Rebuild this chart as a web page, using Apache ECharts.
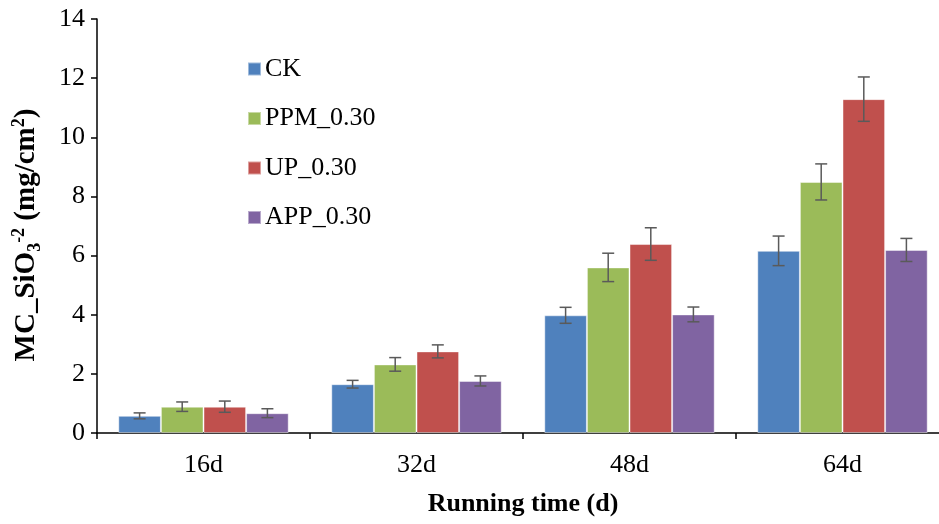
<!DOCTYPE html>
<html>
<head>
<meta charset="utf-8">
<script src="https://cdn.jsdelivr.net/npm/echarts@6/dist/echarts.min.js"></script>
<style>html,body{margin:0;padding:0;background:#fff}#c{width:939px;height:524px}</style>
</head>
<body>
<div id="c"></div>
<script>
const categories = ['16d', '32d', '48d', '64d'];
const seriesNames = ['CK', 'PPM_0.30', 'UP_0.30', 'APP_0.30'];
const ck = [0.58, 1.65, 3.98, 6.16];
const ckErr = [0.10, 0.13, 0.27, 0.50];
const ppm = [0.89, 2.32, 5.60, 8.49];
const ppmErr = [0.16, 0.23, 0.48, 0.61];
const up = [0.89, 2.76, 6.39, 11.29];
const upErr = [0.19, 0.22, 0.55, 0.75];
const app = [0.67, 1.76, 4.01, 6.19];
const appErr = [0.15, 0.17, 0.25, 0.39];
const yTicks = { min: 0, max: 14, interval: 2 };

const values = [ck, ppm, up, app];
const errors = [ckErr, ppmErr, upErr, appErr];
const colors = ['#4F81BD', '#9BBB59', '#C0504D', '#8064A2'];
const FONT = '"Liberation Serif", "Times New Roman", serif';
const CAT_GAP = 0.2;

const chart = echarts.init(document.getElementById('c'), null, { renderer: 'canvas' });

const barSeries = seriesNames.map((n, i) => ({
  type: 'bar',
  name: n,
  data: values[i],
  barGap: '0%',
  barCategoryGap: (CAT_GAP * 100) + '%',
  itemStyle: { color: colors[i], borderColor: 'rgba(255,255,255,0.45)', borderWidth: 1 },
  z: 2
}));

const errSeries = seriesNames.map((n, i) => ({
  type: 'custom',
  name: n + ' err',
  z: 5,
  silent: true,
  encode: { x: 0, y: 1 },
  data: values[i].map((v, k) => [k, v, errors[i][k]]),
  renderItem: function (params, api) {
    const c = api.value(0), v = api.value(1), e = api.value(2);
    const band = api.size([1, 0])[0];
    const bw = band * (1 - CAT_GAP) / seriesNames.length;
    const p = api.coord([c, v]);
    const x = p[0] + (i - (seriesNames.length - 1) / 2) * bw;
    const top = api.coord([c, v + e])[1];
    const bot = api.coord([c, v - e])[1];
    const cap = 6;
    const st = { stroke: '#5a5a5a', lineWidth: 1.5 };
    return {
      type: 'group',
      children: [
        { type: 'line', shape: { x1: x, y1: top, x2: x, y2: bot }, style: st },
        { type: 'line', shape: { x1: x - cap, y1: top, x2: x + cap, y2: top }, style: st },
        { type: 'line', shape: { x1: x - cap, y1: bot, x2: x + cap, y2: bot }, style: st }
      ]
    };
  }
}));

chart.setOption({
  animation: false,
  backgroundColor: '#fff',
  grid: { left: 97, top: 19, width: 852, height: 414, containLabel: false, outerBoundsMode: 'none' },
  legend: {
    data: seriesNames,
    orient: 'vertical',
    left: 247,
    top: 56,
    padding: 0,
    itemWidth: 13,
    itemHeight: 13,
    itemGap: 23.5,
    icon: 'rect',
    textStyle: { fontFamily: FONT, fontSize: 26, color: '#000', padding: [0, 0, 0, -1] }
  },
  graphic: [{
    type: 'text',
    x: 27,
    y: 235,
    rotation: Math.PI / 2,
    style: {
      text: '{b|MC_SiO}{sub|3}{sup|-2}{b| (mg/cm}{sup|2}{b|)}',
      align: 'center',
      verticalAlign: 'middle',
      rich: {
        b: { fontFamily: FONT, fontSize: 29, fontWeight: 'bold', fill: '#000', lineHeight: 34 },
        sub: { fontFamily: FONT, fontSize: 18, fontWeight: 'bold', fill: '#000', verticalAlign: 'bottom' },
        sup: { fontFamily: FONT, fontSize: 18, fontWeight: 'bold', fill: '#000', verticalAlign: 'top' }
      }
    }
  }],
  xAxis: {
    type: 'category',
    data: categories,
    name: 'Running time (d)',
    nameLocation: 'middle',
    nameGap: 58,
    nameTextStyle: { fontFamily: FONT, fontSize: 26, fontWeight: 'bold', color: '#000' },
    axisLine: { lineStyle: { color: '#000', width: 1.5 } },
    axisTick: { show: true, length: 6, lineStyle: { color: '#000', width: 1.5 } },
    axisLabel: { fontFamily: FONT, fontSize: 26, color: '#000', margin: 19 },
    splitLine: { show: false }
  },
  yAxis: {
    type: 'value',
    min: yTicks.min,
    max: yTicks.max,
    interval: yTicks.interval,
    axisLine: { show: true, lineStyle: { color: '#000', width: 1.5 } },
    axisTick: { show: true, length: 6, lineStyle: { color: '#000', width: 1.5 } },
    axisLabel: { fontFamily: FONT, fontSize: 26, color: '#000', margin: 12 },
    splitLine: { show: false }
  },
  series: barSeries.concat(errSeries)
});
</script>
</body>
</html>
